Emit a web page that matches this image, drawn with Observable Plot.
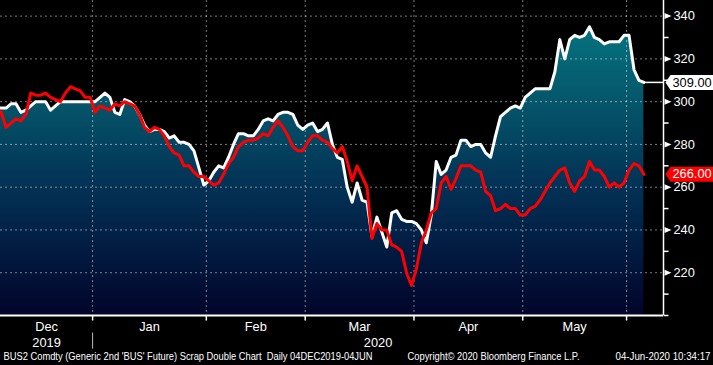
<!DOCTYPE html>
<html><head><meta charset="utf-8">
<script src="https://cdn.jsdelivr.net/npm/d3@7"></script>
<script src="https://cdn.jsdelivr.net/npm/@observablehq/plot@0.6"></script>
<style>
html,body{margin:0;padding:0;background:#000;}
svg{display:block;}
</style>
</head><body><div id="chart"></div>
<script>
// ---- data ----
const startDate = "2019-12-04";
const endDate = "2020-06-04";
const whiteValues = [
297, 297, 297, 299, 299, 295, 296, 298, 300, 300,
300, 296, 298, 300, 300, 300, 300, 300, 300, 300,
300, 302, 304, 302, 295, 294, 301, 300, 298, 294,
289, 286, 287, 287, 286, 283, 284, 281, 281, 280,
277, 269, 261, 263, 267, 270, 269, 274, 280, 285,
285, 284, 284, 287, 291, 292, 291, 294, 295, 295,
294, 289, 287, 289, 290, 286, 287, 290, 280, 274,
273, 260, 253, 262, 254, 253, 237, 246, 239, 232,
248, 249, 245, 244, 244, 243, 240, 234, 247, 272,
266, 268, 274, 275, 282, 282, 279, 280, 280, 276,
274, 284, 293, 295, 297, 298, 297, 302, 304, 306,
306, 306, 306, 314, 329, 320, 329, 331, 330, 331,
335, 330, 329, 327, 328, 328, 328, 331, 331, 315,
310, 309
];
const redValues = [
297, 295, 288, 290, 292, 291, 294, 304, 303, 303,
304, 302, 301, 300, 304, 307, 306, 305, 302, 302,
295, 298, 297, 296, 299, 298, 300, 299, 298, 294,
288, 286, 288, 287, 284, 279, 276, 275, 270, 270,
267, 265, 265, 263, 261, 262, 266, 271, 274, 279,
281, 282, 282, 283, 285, 284, 288, 291, 288, 284,
279, 277, 277, 281, 284, 284, 282, 281, 278, 276,
279, 272, 263, 270, 265, 260, 236, 243, 240, 240,
233, 232, 230, 220, 214, 222, 234, 240, 248, 250,
262, 265, 259, 264, 270, 270, 270, 268, 267, 258,
256, 249, 250, 252, 250, 250, 247, 247, 250, 251,
254, 258, 262, 265, 268, 269, 262, 258, 263, 265,
272, 268, 268, 265, 260, 262, 260, 262, 268, 271,
270, 266
];
const monthLabels = ["Dec", "Jan", "Feb", "Mar", "Apr", "May"];
const yearLabels = ["2019", "2020"];
const yMajorTicks = [220, 240, 260, 280, 300, 320, 340];
const yMinorTicks = [200, 210, 230, 250, 270, 290, 310, 330];
const footerLeft = "BUS2 Comdty (Generic 2nd 'BUS' Future) Scrap Double Chart  Daily 04DEC2019-04JUN";
const footerMid = "Copyright\u00A9 2020 Bloomberg Finance L.P.";
const footerRight = "04-Jun-2020 10:34:17";

// ---- derived tables ----
const dates = d3.utcDay.range(new Date(startDate), d3.utcDay.offset(new Date(endDate), 1))
  .filter(d => d.getUTCDay() % 6 !== 0);
const n = Math.min(dates.length, whiteValues.length, redValues.length);
const data = d3.range(n).map(i => ({i, date: dates[i], w: whiteValues[i], r: redValues[i]}));

const bounds = [];
for (let i = 1; i < n; i++) if (dates[i].getUTCMonth() !== dates[i - 1].getUTCMonth()) bounds.push(i - 0.5);

const xDomain = [0.87, 134.97];
const yDomain = [200, 347.3];

const monthEdges = [xDomain[0], ...bounds];
const months = monthLabels.map((m, k) => ({label: m, x: (monthEdges[k] + monthEdges[k + 1]) / 2}));
const yearEdges = [xDomain[0], bounds[0], xDomain[1]];
const years = yearLabels.map((y, k) => ({label: y, x: (yearEdges[k] + yearEdges[k + 1]) / 2}));

const lastW = whiteValues[n - 1];
const lastR = redValues[n - 1];

// ---- symbols ----
const triTick = {draw(c) { c.moveTo(0, -3); c.lineTo(7, 0); c.lineTo(0, 3); c.closePath(); }};
const hTick = {draw(c) { c.moveTo(0, 0); c.lineTo(5, 0); }};
const vTick = {draw(c) { c.moveTo(0, 0); c.lineTo(0, 5); }};
const vSep = {draw(c) { c.moveTo(0, 17); c.lineTo(0, 33); }};
const tag = {draw(c) { c.moveTo(-7, 0); c.lineTo(-2, -7.5); c.lineTo(46, -7.5); c.lineTo(46, 7.5); c.lineTo(-2, 7.5); c.closePath(); }};

const grid = {stroke: "#fff", strokeOpacity: 0.48, strokeDasharray: "2,3", strokeWidth: 1};
const fs = 12.8;

const svg = Plot.plot({
  width: 713, height: 365,
  marginLeft: 0, marginRight: 50, marginTop: 0, marginBottom: 50,
  style: {background: "#000", color: "#fff", fontFamily: "'Liberation Sans', Arial, sans-serif", fontSize: "12.8px"},
  x: {domain: xDomain, axis: null},
  y: {domain: yDomain, axis: null},
  marks: [
    Plot.areaY(data, {x: "i", y1: yDomain[0], y2: "w", fill: "url(#bbfill)", clip: true}),
    Plot.ruleY(yMajorTicks, grid),
    Plot.ruleX(bounds, grid),
    Plot.lineY(data, {x: "i", y: "w", stroke: "#fff", strokeWidth: 3, clip: true}),
    Plot.lineY(data, {x: "i", y: "r", stroke: "#f00", strokeWidth: 3, clip: true}),
    Plot.ruleY([lastW], {x1: n - 1, x2: xDomain[1], stroke: "#fff", strokeWidth: 1.5}),
    // axes lines
    Plot.ruleX([xDomain[1]], {stroke: "#fff", strokeWidth: 1.5}),
    Plot.ruleY([yDomain[0]], {stroke: "#fff", strokeWidth: 2}),
    // right axis ticks & labels
    Plot.dot(yMajorTicks, {x: () => xDomain[1], y: d => d, symbol: triTick, fill: "#fff", stroke: "none", dx: 1}),
    Plot.dot(yMinorTicks, {x: () => xDomain[1], y: d => d, symbol: hTick, fill: "none", stroke: "#fff", strokeWidth: 1.5}),
    Plot.text(yMajorTicks, {x: () => xDomain[1], y: d => d, text: d => String(d), dx: 10, textAnchor: "start", lineAnchor: "middle", fill: "#fff", fontSize: fs}),
    // last value tags
    Plot.dot([lastW], {x: () => xDomain[1], y: d => d, symbol: tag, fill: "#fff", stroke: "none", dx: 9}),
    Plot.text([lastW], {x: () => xDomain[1], y: d => d, text: d => d3.format(".2f")(d), dx: 9, textAnchor: "start", lineAnchor: "middle", fill: "#000", fontSize: fs}),
    Plot.dot([lastR], {x: () => xDomain[1], y: d => d, symbol: tag, fill: "#f00", stroke: "none", dx: 9}),
    Plot.text([lastR], {x: () => xDomain[1], y: d => d, text: d => d3.format(".2f")(d), dx: 9, textAnchor: "start", lineAnchor: "middle", fill: "#fff", fontSize: fs}),
    // bottom axis
    Plot.dot(bounds, {x: d => d, y: () => yDomain[0], symbol: vTick, fill: "none", stroke: "#fff", strokeWidth: 1.5}),
    Plot.dot([bounds[0]], {x: d => d, y: () => yDomain[0], symbol: vSep, fill: "none", stroke: "#bbb", strokeWidth: 1}),
    Plot.text(months, {x: "x", text: "label", frameAnchor: "bottom", lineAnchor: "bottom", dy: 15, fill: "#fff", fontSize: fs}),
    Plot.text(years, {x: "x", text: "label", frameAnchor: "bottom", lineAnchor: "bottom", dy: 31.5, fill: "#fff", fontSize: fs}),
    // footer
    Plot.text([footerLeft], {text: d => d, frameAnchor: "bottom-left", textAnchor: "start", lineAnchor: "bottom", dx: 3, dy: 44, fill: "#fff", fontSize: 10.5}),
    Plot.text([footerMid], {text: d => d, frameAnchor: "bottom", textAnchor: "start", lineAnchor: "bottom", dx: 75.5, dy: 44, fill: "#fff", fontSize: 10.5}),
    Plot.text([footerRight], {text: d => d, frameAnchor: "bottom-right", textAnchor: "end", lineAnchor: "bottom", dx: 47, dy: 44, fill: "#fff", fontSize: 10.5})
  ]
});

// gradient fill for the area, in the y scale's pixel space
const ys = svg.scale("y");
const gy0 = ys.apply(yDomain[1]), gy1 = ys.apply(yDomain[0]);
d3.select(svg).insert("defs", ":first-child").html(
  `<linearGradient id="bbfill" gradientUnits="userSpaceOnUse" x1="0" y1="${gy0}" x2="0" y2="${gy1}">
     <stop offset="0.08" stop-color="#04737f"/>
     <stop offset="0.32" stop-color="#05566a"/>
     <stop offset="0.57" stop-color="#033457"/>
     <stop offset="0.80" stop-color="#021a40"/>
     <stop offset="1" stop-color="#02042a"/>
   </linearGradient>`);

// fit footer texts to their measured widths
const fit = {[footerLeft]: 369, [footerMid]: 172, [footerRight]: 95};
d3.select(svg).selectAll("text").each(function () {
  const w = fit[this.textContent];
  if (w) d3.select(this).attr("textLength", w).attr("lengthAdjust", "spacingAndGlyphs");
});

document.getElementById("chart").append(svg);
</script>
</body></html>
